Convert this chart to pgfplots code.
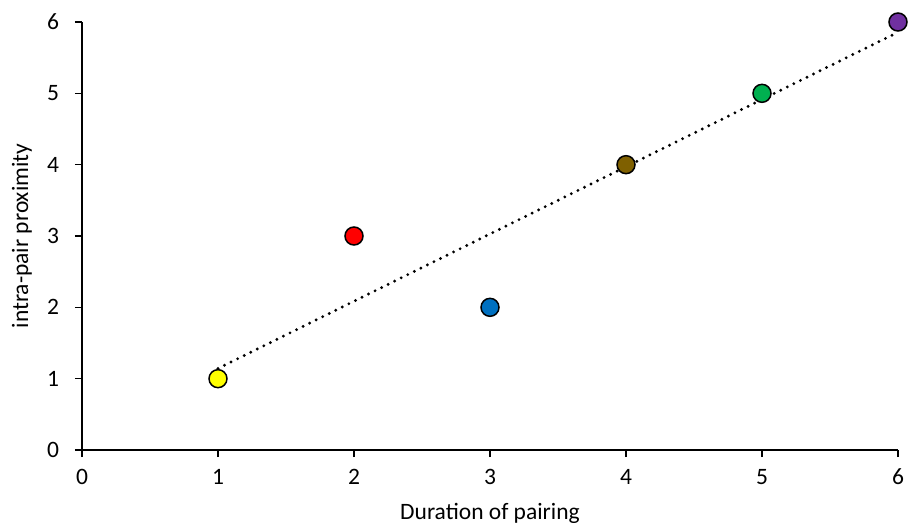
\documentclass[border=0pt]{standalone}
\usepackage{fontspec}
\setmainfont{Carlito}
\usepackage{pgfplots}
\pgfplotsset{compat=1.18}
\definecolor{cYellow}{HTML}{FFFF00}
\definecolor{cRed}{HTML}{FF0000}
\definecolor{cBlue}{HTML}{0070C0}
\definecolor{cBrown}{HTML}{7F6000}
\definecolor{cGreen}{HTML}{00B050}
\definecolor{cPurple}{HTML}{7030A0}
\begin{document}
\begin{tikzpicture}
\begin{axis}[
  scale only axis,
  width=816bp, height=428bp,
  xmin=0, xmax=6, ymin=0, ymax=6,
  xtick={0,1,...,6}, ytick={0,1,...,6},
  axis x line=bottom, axis y line=left,
  axis line style={line width=1.3bp, black, -},
  tick align=outside,
  tick style={line width=1.3bp, black},
  major tick length=7bp,
  /pgf/number format/assume math mode=true,
  font=\fontsize{23.5bp}{28bp}\selectfont,
  xticklabel style={anchor=center, yshift=-20bp},
  yticklabel style={anchor=center, xshift=-22bp},
  xlabel={Duration of pairing},
  ylabel={intra-pair proximity},
  xlabel style={at={(axis description cs:0.5,0)}, anchor=center, yshift=-63bp},
  ylabel style={at={(axis description cs:0,0.5)}, anchor=center, rotate=0, yshift=60bp},
  clip=false,
]
\addplot[only marks, mark=*, mark size=9bp, mark options={draw=black, line width=1.5bp, fill=cYellow}] coordinates {(1,1)};
\addplot[only marks, mark=*, mark size=9bp, mark options={draw=black, line width=1.5bp, fill=cRed}] coordinates {(2,3)};
\addplot[only marks, mark=*, mark size=9bp, mark options={draw=black, line width=1.5bp, fill=cBlue}] coordinates {(3,2)};
\addplot[only marks, mark=*, mark size=9bp, mark options={draw=black, line width=1.5bp, fill=cBrown}] coordinates {(4,4)};
\addplot[only marks, mark=*, mark size=9bp, mark options={draw=black, line width=1.5bp, fill=cGreen}] coordinates {(5,5)};
\addplot[only marks, mark=*, mark size=9bp, mark options={draw=black, line width=1.5bp, fill=cPurple}] coordinates {(6,6)};
\addplot[black, line width=3.2bp, line cap=round, dash pattern=on 0bp off 7.3bp] coordinates {(1,1.143) (6,5.857)};
\end{axis}
\pgfresetboundingbox
\path ([shift={(-82bp,-82bp)}]current axis.south west) rectangle ([shift={(10bp,22bp)}]current axis.north east);
\end{tikzpicture}
\end{document}
